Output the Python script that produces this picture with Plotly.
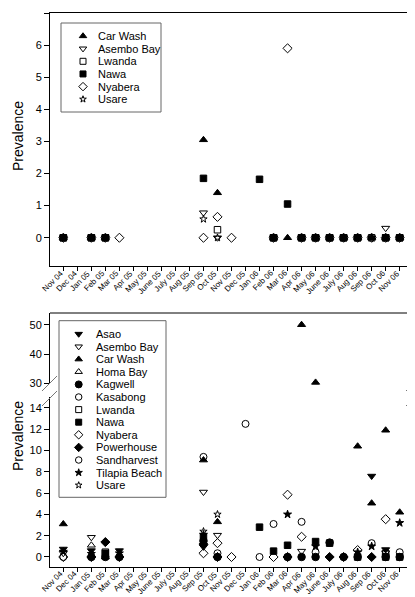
import plotly.graph_objects as go

months = ["Nov 04", "Dec 04", "Jan 05", "Feb 05", "Mar 05", "Apr 05", "May 05", "June 05",
          "July 05", "Aug 05", "Sep 05", "Oct 05", "Nov 05", "Dec 05", "Jan 06", "Feb 06",
          "Mar 06", "Apr 06", "May 06", "June 06", "July 06", "Aug 06", "Sep 06", "Oct 06", "Nov 06"]

# ---------------- top panel data ----------------
late06 = ["Apr 06", "May 06", "June 06", "July 06", "Aug 06", "Sep 06", "Oct 06", "Nov 06"]

top_car_wash_m = ["Nov 04", "Jan 05", "Feb 05", "Sep 05", "Oct 05", "Feb 06", "Mar 06"] + late06
top_car_wash_v = [0, 0, 0, 3.05, 1.4, 0, 0, 0, 0, 0, 0, 0, 0, 0, 0]
top_asembo_m = ["Nov 04", "Jan 05", "Feb 05", "Sep 05", "Oct 05", "Feb 06"] + late06
top_asembo_v = [0, 0, 0, 0.78, 0, 0, 0, 0, 0, 0, 0, 0, 0.3, 0]
top_lwanda_m = ["Nov 04", "Jan 05", "Feb 05", "Oct 05", "Feb 06"] + late06
top_lwanda_v = [0, 0, 0, 0.25, 0, 0, 0, 0, 0, 0, 0, 0, 0]
top_nawa_m = ["Nov 04", "Jan 05", "Feb 05", "Sep 05", "Jan 06", "Feb 06", "Mar 06",
              "Apr 06", "May 06", "June 06", "July 06", "Aug 06", "Oct 06", "Nov 06"]
top_nawa_v = [0, 0, 0, 1.85, 1.82, 0, 1.05, 0, 0, 0, 0, 0, 0, 0]
top_nyabera_m = ["Nov 04", "Jan 05", "Feb 05", "Mar 05", "Sep 05", "Oct 05", "Nov 05", "Feb 06", "Mar 06"] + late06
top_nyabera_v = [0, 0, 0, 0, 0, 0.65, 0, 0, 5.9, 0, 0, 0, 0, 0, 0, 0, 0]
top_usare_m = ["Nov 04", "Jan 05", "Feb 05", "Sep 05", "Oct 05", "Feb 06"] + late06
top_usare_v = [0, 0, 0, 0.58, 0, 0, 0, 0, 0, 0, 0, 0, 0, 0]

# ---------------- bottom panel data ----------------
asao_m = ["Nov 04", "Jan 05", "Mar 05", "Sep 05", "Sep 06", "Oct 06"]
asao_v = [0.75, 0.6, 0.6, 0.95, 7.6, 0.7]
asembo_m = ["Nov 04", "Jan 05", "Sep 05", "Oct 05", "Apr 06", "Oct 06"]
asembo_v = [0.35, 1.85, 6.1, 2.05, 0.55, 0.4]
car_wash_m = ["Nov 04", "Feb 05", "Sep 05", "Oct 05", "Apr 06", "May 06", "Aug 06", "Sep 06", "Oct 06", "Nov 06"]
car_wash_v = [3.1, 0, 9.1, 3.3, 50, 30.3, 10.4, 5.05, 11.9, 4.2]
homa_m = ["Jan 05"]
homa_v = [1.1]
kagwell_m = ["Jan 05", "Feb 05", "Mar 05", "Sep 05", "Oct 05", "Mar 06", "Apr 06", "May 06",
             "June 06", "July 06", "Aug 06", "Oct 06", "Nov 06"]
kagwell_v = [0, 0, 0, 1.5, 0, 0, 0, 0, 1.35, 0, 0, 0, 0]
kasabong_m = ["Dec 05", "Jan 06", "Apr 06"]
kasabong_v = [12.5, 0, 3.3]
lwanda_m = ["Feb 05", "Oct 06"]
lwanda_v = [0.45, 0.3]
nawa_m = ["Feb 05", "Sep 05", "Jan 06", "Feb 06", "Mar 06", "May 06", "June 06", "Aug 06", "Oct 06", "Nov 06"]
nawa_v = [0.35, 1.85, 2.8, 0.55, 1.1, 1.45, 1.3, 0, 0, 0]
nyabera_m = ["Nov 04", "Sep 05", "Oct 05", "Nov 05", "Feb 06", "Mar 06", "Apr 06", "Aug 06", "Oct 06"]
nyabera_v = [0, 0.35, 1.3, 0, 0, 5.85, 1.9, 0.65, 3.55]
powerhouse_m = ["Jan 05", "Feb 05", "Mar 05", "Sep 05", "Oct 05", "Mar 06", "June 06", "July 06", "Sep 06"]
powerhouse_v = [0, 1.4, 0, 1.2, 0, 0, 0, 0, 0]
sandharvest_m = ["Nov 04", "Sep 05", "Oct 05", "Feb 06", "May 06", "Sep 06", "Nov 06"]
sandharvest_v = [0, 9.4, 0.35, 3.1, 0.45, 1.3, 0.45]
tilapia_m = ["Nov 04", "Jan 05", "Mar 05", "Sep 05", "Mar 06", "May 06", "Aug 06", "Sep 06", "Nov 06"]
tilapia_v = [0.5, 0.3, 0.35, 2.1, 4.0, 1.0, 0.45, 1.0, 3.2]
usare_m = ["Sep 05", "Oct 05"]
usare_v = [2.4, 4.0]

top_series = [
    ("Car Wash", "triangle-up", 7, top_car_wash_m, top_car_wash_v),
    ("Asembo Bay", "triangle-down-open", 7, top_asembo_m, top_asembo_v),
    ("Lwanda", "square-open", 6.5, top_lwanda_m, top_lwanda_v),
    ("Nawa", "square", 6.5, top_nawa_m, top_nawa_v),
    ("Nyabera", "diamond-open", 7, top_nyabera_m, top_nyabera_v),
    ("Usare", "star-open", 5.5, top_usare_m, top_usare_v),
]
bottom_series = [
    ("Asao", "triangle-down", 7, asao_m, asao_v),
    ("Asembo Bay", "triangle-down-open", 7, asembo_m, asembo_v),
    ("Car Wash", "triangle-up", 7, car_wash_m, car_wash_v),
    ("Homa Bay", "triangle-up-open", 7, homa_m, homa_v),
    ("Kagwell", "circle", 7.5, kagwell_m, kagwell_v),
    ("Kasabong", "circle-open", 7, kasabong_m, kasabong_v),
    ("Lwanda", "square-open", 6.5, lwanda_m, lwanda_v),
    ("Nawa", "square", 6.5, nawa_m, nawa_v),
    ("Nyabera", "diamond-open", 7, nyabera_m, nyabera_v),
    ("Powerhouse", "diamond", 7, powerhouse_m, powerhouse_v),
    ("Sandharvest", "circle-open", 7, sandharvest_m, sandharvest_v),
    ("Tilapia Beach", "star", 6, tilapia_m, tilapia_v),
    ("Usare", "star-open", 5.5, usare_m, usare_v),
]

# ---------------- geometry (pixels -> paper) ----------------
W, H = 415, 597
ML, MR, MT, MB = 42, 10, 5, 38
PW, PH = W - ML - MR, H - MT - MB


def px(x):
    return (x - ML) / PW


def py(y):
    return (H - MB - y) / PH


FONT = "Liberation Sans, Arial, sans-serif"
fig = go.Figure()


def mk(symbol, size):
    return dict(symbol=symbol, size=size, color="black", line=dict(width=1, color="black"))


for name, sym, sz, m, v in top_series:
    fig.add_trace(go.Scatter(x=m, y=v, mode="markers", marker=mk(sym, sz), name=name,
                             xaxis="x", yaxis="y", showlegend=False, cliponaxis=False))

for name, sym, sz, m, v in bottom_series:
    lo_m = [a for a, b in zip(m, v) if b < 20]
    lo_v = [b for b in v if b < 20]
    hi_m = [a for a, b in zip(m, v) if b >= 20]
    hi_v = [b for b in v if b >= 20]
    fig.add_trace(go.Scatter(x=lo_m, y=lo_v, mode="markers", marker=mk(sym, sz), name=name,
                             xaxis="x2", yaxis="y2", showlegend=False, cliponaxis=False))
    if hi_m:
        fig.add_trace(go.Scatter(x=hi_m, y=hi_v, mode="markers", marker=mk(sym, sz), name=name,
                                 xaxis="x2", yaxis="y3", showlegend=False, cliponaxis=False))

# ---------------- legends (drawn manually) ----------------
annotations = []
shapes = []


def draw_legend(series, box, mx, tx, y0, step):
    x0b, y0b, x1b, y1b = box
    shapes.append(dict(type="rect", xref="paper", yref="paper", x0=px(x0b), x1=px(x1b),
                       y0=py(y1b), y1=py(y0b), line=dict(color="#666", width=1),
                       fillcolor="white", layer="below"))
    for i, (name, sym, sz, _, _) in enumerate(series):
        yy = y0 + i * step
        fig.add_trace(go.Scatter(x=[px(mx)], y=[py(yy)], mode="markers",
                                 marker=mk(sym, sz - 0.5), xaxis="x3", yaxis="y4",
                                 showlegend=False, hoverinfo="skip", cliponaxis=False))
        annotations.append(dict(x=px(tx), y=py(yy), xref="paper", yref="paper", text=name,
                                showarrow=False, xanchor="left", yanchor="middle",
                                font=dict(family=FONT, size=11, color="black")))


draw_legend(top_series, (53, 15, 153, 104), 75, 88, 28, 12.65)
draw_legend(bottom_series, (51, 312.7, 158, 489.3), 70.7, 86, 326, 12.6)

# rotated month labels under both x axes
for xref, ylab in (("x", 259.5), ("x2", 560)):
    for mth in months:
        annotations.append(dict(x=mth, y=py(ylab), xref=xref, yref="paper", text=mth,
                                showarrow=False, textangle=-45, xanchor="right", yanchor="top",
                                xshift=3, borderpad=0,
                                font=dict(family=FONT, size=8, color="black")))

# y titles
for yc in (128, 428):
    annotations.append(dict(x=px(10), y=py(yc), xref="paper", yref="paper", text="Prevalence",
                            showarrow=False, textangle=-90, xanchor="center", yanchor="middle",
                            font=dict(family=FONT, size=14, color="black")))

# top border of upper bottom segment
shapes.append(dict(type="line", xref="paper", yref="paper", x0=0, x1=1, y0=py(305), y1=py(305),
                   line=dict(color="black", width=1)))
# axis-break marks
for xb in (34, 398):
    for yb in (383, 398):
        shapes.append(dict(type="line", xref="paper", yref="paper",
                           x0=px(xb), y0=py(yb), x1=px(xb + 15), y1=py(yb - 15),
                           line=dict(color="#777", width=1)))

tickfont = dict(family=FONT, size=11, color="black")
xcommon = dict(type="category", categoryorder="array", categoryarray=months,
               range=[-0.95, 24.95], tickmode="array", tickvals=months, showticklabels=False,
               showline=True, linecolor="black", linewidth=1, ticks="outside", ticklen=4,
               tickcolor="black", showgrid=False, zeroline=False, fixedrange=True,
               automargin=False)
ycommon = dict(showline=True, linecolor="black", linewidth=1, mirror=True, ticks="outside",
               ticklen=5, tickcolor="black", showgrid=False, zeroline=False,
               tickfont=tickfont, fixedrange=True, automargin=False)

fig.update_layout(
    template="none",
    width=W, height=H,
    margin=dict(l=ML, r=MR, t=MT, b=MB, pad=0),
    paper_bgcolor="white", plot_bgcolor="rgba(0,0,0,0)",
    showlegend=False,
    xaxis=dict(domain=[0, 1], anchor="y", mirror=True, **xcommon),
    yaxis=dict(domain=[py(258), 1], anchor="x", range=[-0.88, 7], tickvals=list(range(0, 8)), **ycommon),
    xaxis2=dict(domain=[0, 1], anchor="y2", **xcommon),
    yaxis2=dict(domain=[0, py(389.25)], anchor="x2", range=[-0.94, 15.0],
                tickvals=list(range(0, 15, 2)), **ycommon),
    yaxis3=dict(domain=[py(375.3), py(305)], anchor="x2", range=[30, 54], tickvals=[30, 40, 50], **ycommon),
    xaxis3=dict(domain=[0, 1], anchor="y4", range=[0, 1], visible=False, fixedrange=True),
    yaxis4=dict(domain=[0, 1], anchor="x3", range=[0, 1], visible=False, fixedrange=True),
    annotations=annotations,
    shapes=shapes,
)

fig.write_html("out.html")
